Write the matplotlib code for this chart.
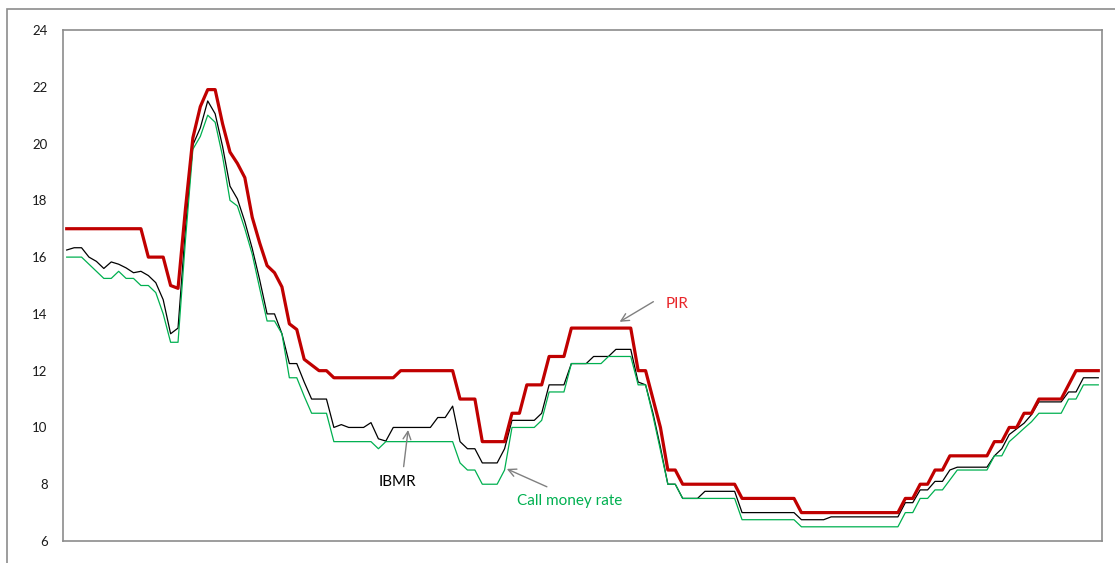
import matplotlib
matplotlib.use('Agg')
import matplotlib.pyplot as plt
import numpy as np

plt.rcParams['font.family'] = ['Lato', 'DejaVu Sans']

# monthly rates (%)
pir = [17.0, 17.0, 17.0, 17.0, 17.0, 17.0, 17.0, 17.0, 17.0, 17.0,
       17.0, 16.0, 16.0, 16.0, 15.0, 14.9, 17.7, 20.2, 21.3, 21.9,
       21.9, 20.7, 19.7, 19.3, 18.8, 17.4, 16.5, 15.7, 15.45, 14.95,
       13.65, 13.45, 12.4, 12.2, 12.0, 12.0, 11.75, 11.75, 11.75, 11.75,
       11.75, 11.75, 11.75, 11.75, 11.75, 12.0, 12.0, 12.0, 12.0, 12.0,
       12.0, 12.0, 12.0, 11.0, 11.0, 11.0, 9.5, 9.5, 9.5, 9.5,
       10.5, 10.5, 11.5, 11.5, 11.5, 12.5, 12.5, 12.5, 13.5, 13.5,
       13.5, 13.5, 13.5, 13.5, 13.5, 13.5, 13.5, 12.0, 12.0, 11.0,
       10.0, 8.5, 8.5, 8.0, 8.0, 8.0, 8.0, 8.0, 8.0, 8.0,
       8.0, 7.5, 7.5, 7.5, 7.5, 7.5, 7.5, 7.5, 7.5, 7.0,
       7.0, 7.0, 7.0, 7.0, 7.0, 7.0, 7.0, 7.0, 7.0, 7.0,
       7.0, 7.0, 7.0, 7.5, 7.5, 8.0, 8.0, 8.5, 8.5, 9.0,
       9.0, 9.0, 9.0, 9.0, 9.0, 9.5, 9.5, 10.0, 10.0, 10.5,
       10.5, 11.0, 11.0, 11.0, 11.0, 11.5, 12.0, 12.0, 12.0, 12.0]

ibmr = [16.25, 16.33, 16.33, 16.0, 15.85, 15.6, 15.83, 15.75, 15.62, 15.45,
        15.5, 15.35, 15.1, 14.5, 13.3, 13.5, 17.0, 19.95, 20.55, 21.5,
        21.05, 19.9, 18.5, 18.05, 17.25, 16.3, 15.2, 14.0, 14.0, 13.3,
        12.25, 12.25, 11.6, 11.0, 11.0, 11.0, 10.0, 10.1, 10.0, 10.0,
        10.0, 10.17, 9.6, 9.52, 10.0, 10.0, 10.0, 10.0, 10.0, 10.0,
        10.35, 10.35, 10.75, 9.5, 9.25, 9.25, 8.75, 8.75, 8.75, 9.25,
        10.25, 10.25, 10.25, 10.25, 10.5, 11.5, 11.5, 11.5, 12.25, 12.25,
        12.25, 12.5, 12.5, 12.5, 12.75, 12.75, 12.75, 11.6, 11.5, 10.5,
        9.3, 8.0, 8.0, 7.5, 7.5, 7.5, 7.75, 7.75, 7.75, 7.75,
        7.75, 7.0, 7.0, 7.0, 7.0, 7.0, 7.0, 7.0, 7.0, 6.75,
        6.75, 6.75, 6.75, 6.85, 6.85, 6.85, 6.85, 6.85, 6.85, 6.85,
        6.85, 6.85, 6.85, 7.35, 7.35, 7.8, 7.8, 8.1, 8.1, 8.5,
        8.6, 8.6, 8.6, 8.6, 8.6, 9.0, 9.25, 9.75, 9.95, 10.15,
        10.45, 10.9, 10.9, 10.9, 10.9, 11.25, 11.25, 11.75, 11.75, 11.75]

call_rate = [16.0, 16.0, 16.0, 15.75, 15.5, 15.25, 15.25, 15.5, 15.25, 15.25,
             15.0, 15.0, 14.75, 14.0, 13.0, 13.0, 16.6, 19.8, 20.25, 21.0,
             20.75, 19.55, 18.0, 17.8, 17.0, 16.1, 14.9, 13.75, 13.75, 13.3,
             11.75, 11.75, 11.1, 10.5, 10.5, 10.5, 9.5, 9.5, 9.5, 9.5,
             9.5, 9.5, 9.25, 9.5, 9.5, 9.5, 9.5, 9.5, 9.5, 9.5,
             9.5, 9.5, 9.5, 8.75, 8.5, 8.5, 8.0, 8.0, 8.0, 8.5,
             10.0, 10.0, 10.0, 10.0, 10.25, 11.25, 11.25, 11.25, 12.25, 12.25,
             12.25, 12.25, 12.25, 12.5, 12.5, 12.5, 12.5, 11.5, 11.5, 10.4,
             9.2, 8.0, 8.0, 7.5, 7.5, 7.5, 7.5, 7.5, 7.5, 7.5,
             7.5, 6.75, 6.75, 6.75, 6.75, 6.75, 6.75, 6.75, 6.75, 6.5,
             6.5, 6.5, 6.5, 6.5, 6.5, 6.5, 6.5, 6.5, 6.5, 6.5,
             6.5, 6.5, 6.5, 7.0, 7.0, 7.5, 7.5, 7.8, 7.8, 8.15,
             8.5, 8.5, 8.5, 8.5, 8.5, 9.0, 9.0, 9.5, 9.73, 9.97,
             10.2, 10.5, 10.5, 10.5, 10.5, 11.0, 11.0, 11.5, 11.5, 11.5]

yticks = [6, 8, 10, 12, 14, 16, 18, 20, 22, 24]

x = np.arange(len(pir))

fig = plt.figure(figsize=(11.15, 5.63), dpi=100)
ax = fig.add_axes([63 / 1115, 1 - 541 / 563, 1039 / 1115, 511 / 563])

# outer chart-area border (cropped on right and bottom)
fig.add_artist(plt.Rectangle((7 / 1115, -0.2), 1.2, 1.2 - 9 / 563 ,
                             transform=fig.transFigure, fill=False,
                             edgecolor='#8c8c8c', linewidth=1.2))

ax.plot(x, ibmr, color='black', linewidth=0.9)
ax.plot(x, call_rate, color='#00B050', linewidth=0.9)
ax.plot(x, pir, color='#C00000', linewidth=2.3)

ax.set_xlim(-0.5, len(pir) - 0.5)
ax.set_ylim(6, 24)
ax.set_yticks(yticks)
ax.set_xticks([])
ax.tick_params(axis='y', length=0, pad=11, labelsize=9.5, colors='#1a1a1a')
for s in ax.spines.values():
    s.set_color('#8c8c8c')
    s.set_linewidth(1.2)

arrow = dict(arrowstyle='->', color='#808080', lw=1.0, shrinkA=0, shrinkB=0,
             mutation_scale=14)
ax.annotate('', xy=(74.5, 13.72), xytext=(79.05, 14.43), arrowprops=arrow)
ax.text(82.2, 14.35, 'PIR', color='#E8262A', fontsize=11, ha='center', va='center')

ax.annotate('', xy=(46.0, 9.91), xytext=(45.4, 8.62), arrowprops=arrow)
ax.text(44.5, 8.08, 'IBMR', color='black', fontsize=11, ha='center', va='center')

ax.annotate('', xy=(59.3, 8.54), xytext=(64.7, 7.91), arrowprops=arrow)
ax.text(67.7, 7.41, 'Call money rate', color='#00B050', fontsize=11,
        ha='center', va='center')

fig.savefig('out.png', dpi=100)
